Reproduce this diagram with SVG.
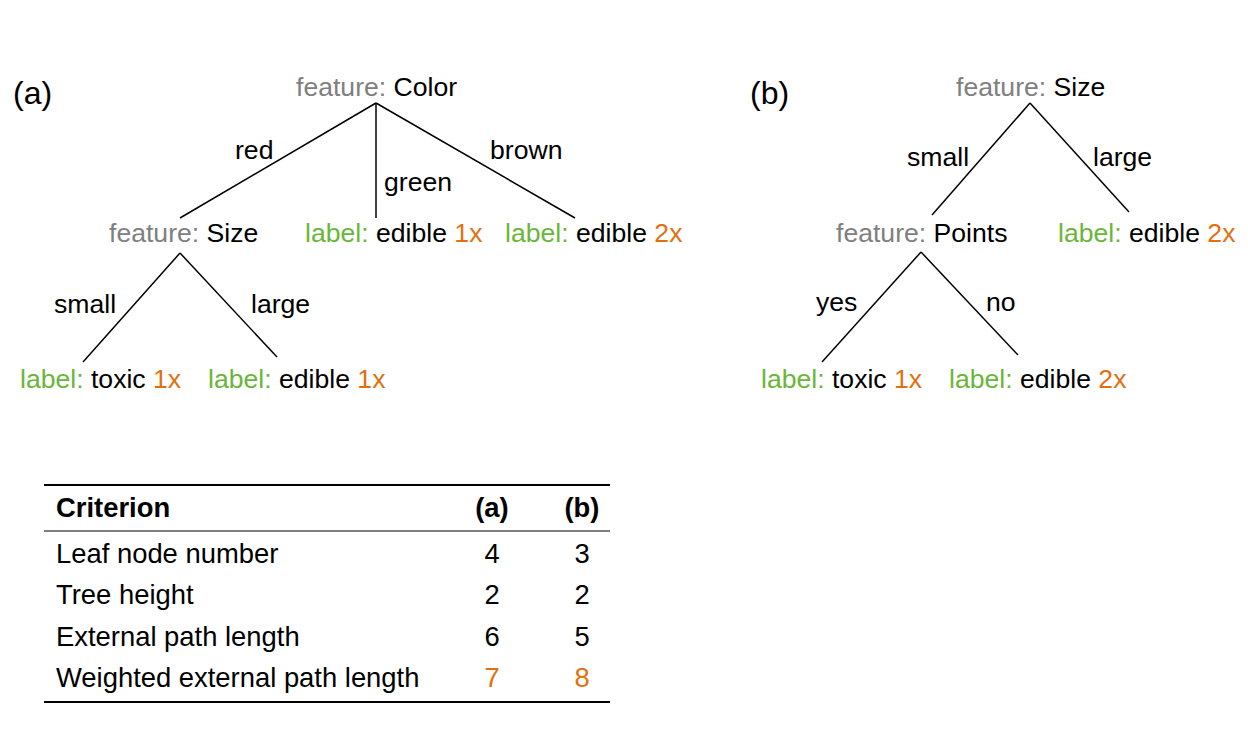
<svg xmlns="http://www.w3.org/2000/svg" width="1248" height="742" viewBox="0 0 1248 742">
<style>
text{font-family:"Liberation Sans",Arial,Helvetica,sans-serif;font-size:26.6px;fill:#000}
.g{fill:#808080}
.l{fill:#6ab63a}
.o{fill:#e2700e}
.p{font-size:32px}
.t{font-size:27.4px}
.b{font-weight:bold}
.c{text-anchor:middle}
line{stroke:#000;stroke-width:1.5}
</style>
<rect width="1248" height="742" fill="#fff"/>
<text class="p" x="13" y="104">(a)</text>
<text class="p" x="750" y="104">(b)</text>
<g id="connectors">
<line x1="376" y1="103" x2="180" y2="218"/>
<line x1="376" y1="103" x2="376" y2="218"/>
<line x1="376" y1="103" x2="575" y2="218"/>
<line x1="180" y1="253" x2="83" y2="362"/>
<line x1="180" y1="253" x2="277" y2="357"/>
<line x1="1030" y1="103" x2="932" y2="215"/>
<line x1="1030" y1="103" x2="1129" y2="212"/>
<line x1="921" y1="252" x2="822" y2="362"/>
<line x1="921" y1="252" x2="1018" y2="355"/>
<text x="235" y="159">red</text>
<text x="384" y="191">green</text>
<text x="490" y="159">brown</text>
<text x="54" y="313">small</text>
<text x="251" y="313">large</text>
<text x="907" y="166">small</text>
<text x="1093" y="166">large</text>
<text x="816" y="311">yes</text>
<text x="986" y="311">no</text>
</g>
<g id="a-root"><text x="296" y="96"><tspan class="g">feature:</tspan> Color</text></g>
<g id="a-size"><text x="109" y="242"><tspan class="g">feature:</tspan> Size</text></g>
<g id="a-green"><text x="305" y="242"><tspan class="l">label:</tspan> edible <tspan class="o">1x</tspan></text></g>
<g id="a-brown"><text x="505" y="242"><tspan class="l">label:</tspan> edible <tspan class="o">2x</tspan></text></g>
<g id="a-small"><text x="20" y="388"><tspan class="l">label:</tspan> toxic <tspan class="o">1x</tspan></text></g>
<g id="a-large"><text x="208" y="388"><tspan class="l">label:</tspan> edible <tspan class="o">1x</tspan></text></g>
<g id="b-root"><text x="956" y="96"><tspan class="g">feature:</tspan> Size</text></g>
<g id="b-points"><text x="836" y="242"><tspan class="g">feature:</tspan> Points</text></g>
<g id="b-large"><text x="1058" y="242"><tspan class="l">label:</tspan> edible <tspan class="o">2x</tspan></text></g>
<g id="b-yes"><text x="761" y="388"><tspan class="l">label:</tspan> toxic <tspan class="o">1x</tspan></text></g>
<g id="b-no"><text x="949" y="388"><tspan class="l">label:</tspan> edible <tspan class="o">2x</tspan></text></g>
<g id="table">
<line x1="44" y1="485" x2="610" y2="485" style="stroke-width:2"/>
<line x1="44" y1="531" x2="610" y2="531" style="stroke-width:1.2"/>
<line x1="44" y1="702" x2="610" y2="702" style="stroke-width:2"/>
<text class="t b" x="56" y="517">Criterion</text>
<text class="t b c" x="492" y="517">(a)</text>
<text class="t b c" x="582" y="517">(b)</text>
<text class="t" x="56" y="563">Leaf node number</text>
<text class="t c" x="492" y="563">4</text>
<text class="t c" x="582" y="563">3</text>
<text class="t" x="56" y="604">Tree height</text>
<text class="t c" x="492" y="604">2</text>
<text class="t c" x="582" y="604">2</text>
<text class="t" x="56" y="646">External path length</text>
<text class="t c" x="492" y="646">6</text>
<text class="t c" x="582" y="646">5</text>
<text class="t" x="56" y="687">Weighted external path length</text>
<text class="t c o" x="492" y="687">7</text>
<text class="t c o" x="582" y="687">8</text>
</g>
</svg>
